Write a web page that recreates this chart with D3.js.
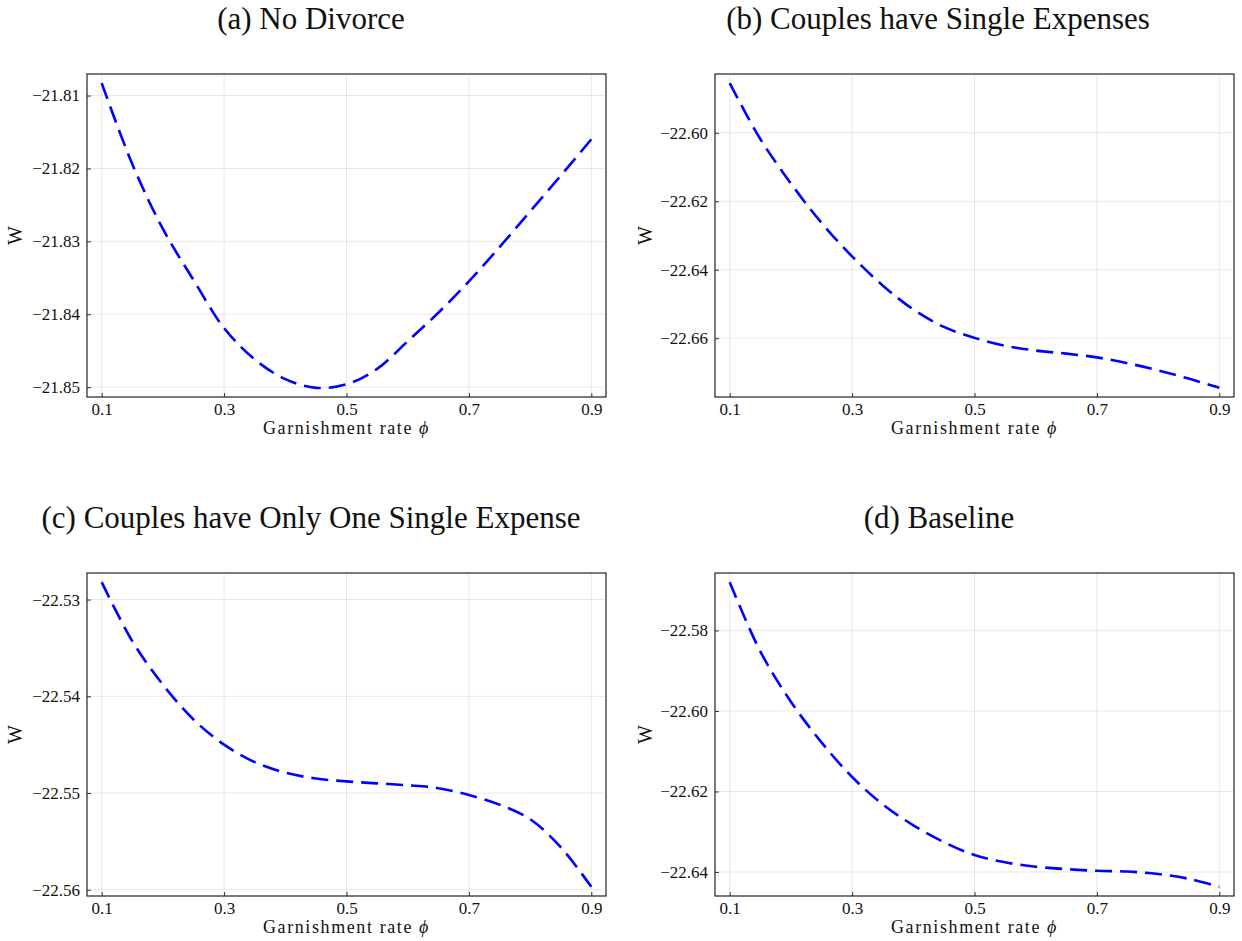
<!DOCTYPE html>
<html>
<head>
<meta charset="utf-8">
<script src="https://cdn.jsdelivr.net/npm/d3@7"></script>
<style>
  body { margin: 0; background: #fff; }
  .title { font-family: "Liberation Serif", serif; font-size: 31px; fill: #111; }
  .tick text { font-family: "Liberation Serif", serif; font-size: 17px; fill: #111; }
  .axis-title { font-family: "Liberation Serif", serif; font-size: 18px; fill: #111; }
</style>
</head>
<body>
<svg id="chart" width="1242" height="941"></svg>
<script>
// garnishment rate grid
const phi = [0.10, 0.15, 0.20, 0.25, 0.30, 0.35, 0.40, 0.45, 0.50,
             0.55, 0.60, 0.65, 0.70, 0.75, 0.80, 0.85, 0.90];

// welfare W
const wNoDivorce = [-21.8083, -21.8194, -21.8283, -21.8353, -21.8419, -21.8462, -21.8489, -21.8501, -21.8496,
                    -21.8475, -21.8437, -21.8398, -21.8355, -21.8308, -21.8259, -21.8210, -21.8160];
const wSingleExpenses = [-22.5855, -22.6018, -22.6148, -22.6263, -22.6361, -22.6446, -22.6516, -22.6567, -22.6599,
                         -22.6622, -22.6636, -22.6645, -22.6656, -22.6673, -22.6694, -22.6718, -22.6745];
const wOneSingleExpense = [-22.5282, -22.5343, -22.5388, -22.5424, -22.5450, -22.5468, -22.5479, -22.5485, -22.5488,
                           -22.5490, -22.5492, -22.5495, -22.5502, -22.5512, -22.5527, -22.5556, -22.5597];
const wBaseline = [-22.5680, -22.5852, -22.5977, -22.6078, -22.6164, -22.6232, -22.6284, -22.6326, -22.6358,
                   -22.6376, -22.6387, -22.6393, -22.6397, -22.6399, -22.6405, -22.6417, -22.6437];

const titles = ['(a) No Divorce', '(b) Couples have Single Expenses',
                '(c) Couples have Only One Single Expense', '(d) Baseline'];

const xTicks = [0.1, 0.3, 0.5, 0.7, 0.9];
const yTicksA = [-21.81, -21.82, -21.83, -21.84, -21.85];
const yTicksB = [-22.60, -22.62, -22.64, -22.66];
const yTicksC = [-22.53, -22.54, -22.55, -22.56];
const yTicksD = [-22.58, -22.60, -22.62, -22.64];

const svg = d3.select('#chart');

// panel boxes (pixels); wX = x position of the rotated "W" label
const panels = [
  { title: titles[0], values: wNoDivorce,        yTicks: yTicksA, box: { left: 87,  right: 606,  top: 74,  bottom: 397 }, titleX: 311, titleY: 29,  wX: 15 },
  { title: titles[1], values: wSingleExpenses,   yTicks: yTicksB, box: { left: 715, right: 1234, top: 74,  bottom: 397 }, titleX: 938, titleY: 29,  wX: 645 },
  { title: titles[2], values: wOneSingleExpense, yTicks: yTicksC, box: { left: 87,  right: 606,  top: 573, bottom: 896 }, titleX: 311, titleY: 528, wX: 15 },
  { title: titles[3], values: wBaseline,         yTicks: yTicksD, box: { left: 715, right: 1234, top: 573, bottom: 896 }, titleX: 939, titleY: 528, wX: 645 }
];

// Plots.jl-style widened extent (3% each side)
function widen(ext) {
  const pad = (ext[1] - ext[0]) * 0.03;
  return [ext[0] - pad, ext[1] + pad];
}

const fmtY = v => d3.format('.2f')(v).replace('-', '\u2212');

panels.forEach(p => {
  const b = p.box;
  const w = b.right - b.left;
  const h = b.bottom - b.top;

  const xScale = d3.scaleLinear().domain(widen(d3.extent(phi))).range([0, w]);
  const yScale = d3.scaleLinear().domain(widen(d3.extent(p.values))).range([h, 0]);

  const g = svg.append('g').attr('transform', `translate(${b.left},${b.top})`);

  // grid
  g.append('g').selectAll('line')
    .data(xTicks)
    .join('line')
      .attr('x1', d => xScale(d)).attr('x2', d => xScale(d))
      .attr('y1', 0).attr('y2', h)
      .attr('stroke', '#000').attr('stroke-opacity', 0.09).attr('stroke-width', 1);
  g.append('g').selectAll('line')
    .data(p.yTicks)
    .join('line')
      .attr('x1', 0).attr('x2', w)
      .attr('y1', d => yScale(d)).attr('y2', d => yScale(d))
      .attr('stroke', '#000').attr('stroke-opacity', 0.09).attr('stroke-width', 1);

  // axes
  const xAxis = d3.axisBottom(xScale).tickValues(xTicks).tickFormat(d3.format('.1f'))
    .tickSizeInner(-4).tickSizeOuter(0).tickPadding(6);
  const yAxis = d3.axisLeft(yScale).tickValues(p.yTicks).tickFormat(fmtY)
    .tickSizeInner(-4).tickSizeOuter(0).tickPadding(7);

  g.append('g').attr('transform', `translate(0,${h})`).call(xAxis)
    .call(a => a.select('.domain').remove())
    .call(a => a.selectAll('.tick line').attr('stroke', '#333'));
  g.append('g').call(yAxis)
    .call(a => a.select('.domain').remove())
    .call(a => a.selectAll('.tick line').attr('stroke', '#333'));

  // frame
  g.append('rect')
    .attr('x', 0).attr('y', 0).attr('width', w).attr('height', h)
    .attr('fill', 'none').attr('stroke', '#222').attr('stroke-width', 1.2);

  // curve
  const line = d3.line()
    .x((d, i) => xScale(phi[i]))
    .y(d => yScale(d))
    .curve(d3.curveCatmullRom);
  g.append('path')
    .datum(p.values)
    .attr('d', line)
    .attr('fill', 'none')
    .attr('stroke', '#0000ff')
    .attr('stroke-width', 2.6)
    .attr('stroke-dasharray', '17,8');

  // axis titles
  g.append('text')
    .attr('class', 'axis-title')
    .attr('x', w / 2)
    .attr('y', h + 37)
    .attr('text-anchor', 'middle')
    .style('letter-spacing', '1.6px')
    .html('Garnishment rate <tspan font-style="italic">\u03D5</tspan>');

  g.append('text')
    .attr('class', 'axis-title')
    .attr('transform', `translate(${p.wX - b.left},${h / 2}) rotate(-90)`)
    .attr('text-anchor', 'middle')
    .attr('dy', '0.35em')
    .style('font-size', '20px')
    .text('W');

  // panel title
  svg.append('text')
    .attr('class', 'title')
    .attr('x', p.titleX)
    .attr('y', p.titleY)
    .attr('text-anchor', 'middle')
    .text(p.title);
});
</script>
</body>
</html>
